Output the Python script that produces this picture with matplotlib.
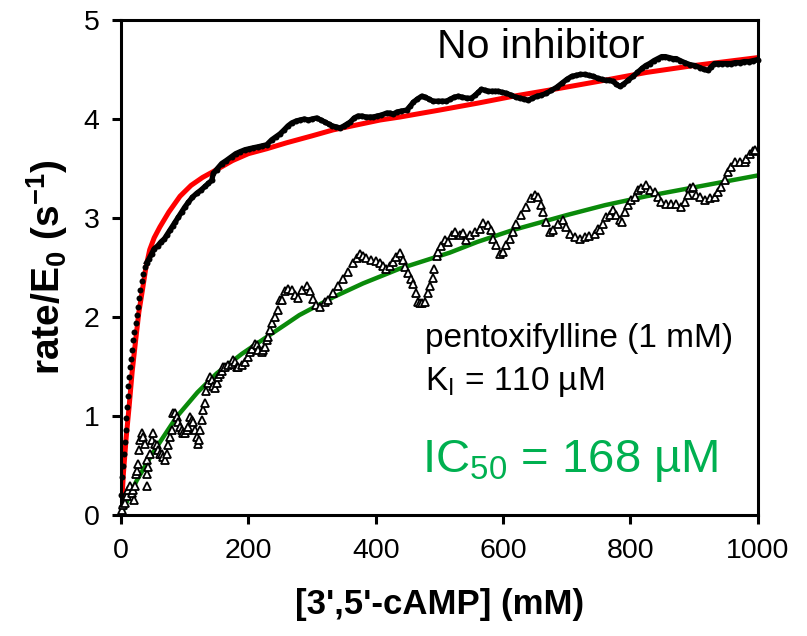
import numpy as np
import matplotlib
matplotlib.use('Agg')
import matplotlib.pyplot as plt

plt.rcParams['font.family'] = ['Liberation Sans', 'DejaVu Sans']
plt.rcParams['mathtext.fontset'] = 'custom'
plt.rcParams['mathtext.rm'] = 'Liberation Sans'
plt.rcParams['mathtext.bf'] = 'Liberation Sans:bold'
plt.rcParams['mathtext.it'] = 'Liberation Sans:italic'
plt.rcParams['mathtext.default'] = 'regular'

# no inhibitor, measured rate (filled circles)
no_inhib = [
    (0, 0.02), (0, 0.08), (0.5, 0.20), (2.1, 0.39), (3.1, 0.50), (4.7, 0.62), (6.3, 0.74),
    (7.3, 0.86), (8.4, 0.98), (9.4, 1.09), (10.5, 1.20), (11.5, 1.30), (13.1, 1.40),
    (14.7, 1.50), (16.2, 1.58), (17.8, 1.67), (19.4, 1.77), (21, 1.85), (23, 1.94),
    (24.6, 2.02), (26.2, 2.10), (28.3, 2.19), (30.4, 2.27), (32.4, 2.36), (35, 2.44),
    (37.7, 2.51), (40.3, 2.55), (44, 2.59), (48, 2.64), (52, 2.69), (57.6, 2.72),
    (62.8, 2.76), (68, 2.79), (72, 2.83), (77, 2.88), (81, 2.92), (84.8, 2.96), (90, 3.01),
    (95.2, 3.06), (100, 3.11), (105.7, 3.16), (112, 3.21), (118.8, 3.25), (125, 3.28),
    (131.9, 3.32), (137, 3.35), (142.3, 3.38), (145, 3.45), (150, 3.49), (158, 3.55),
    (165, 3.58), (173.7, 3.62), (180, 3.65), (187, 3.67), (194.7, 3.69), (201, 3.70),
    (208, 3.71), (215.6, 3.72), (222, 3.73), (228.7, 3.74), (236.5, 3.79), (243, 3.82),
    (249.6, 3.85), (256, 3.89), (262, 3.93), (268, 3.96), (275, 3.98), (281, 3.99),
    (288, 4.00), (294, 3.99), (300, 4.00), (307, 4.01), (314, 3.99), (320, 3.97),
    (326, 3.95), (332, 3.93), (338, 3.92), (344, 3.91), (350, 3.93), (355, 3.95),
    (360, 3.97), (366, 4.01), (372, 4.03), (378, 4.03), (385, 4.02), (391, 4.02),
    (396, 4.02), (402, 4.03), (409, 4.04), (417, 4.06), (422, 4.06), (427.5, 4.05),
    (433, 4.07), (440, 4.08), (448.5, 4.09), (454, 4.13), (459, 4.17), (465, 4.20),
    (472, 4.23), (478, 4.22), (484, 4.20), (490, 4.18), (497, 4.18), (504, 4.18),
    (511, 4.18), (517, 4.20), (523, 4.22), (529.5, 4.23), (536, 4.22), (543, 4.21),
    (550, 4.21), (556, 4.24), (561, 4.27), (566, 4.30), (572, 4.29), (577, 4.28),
    (582, 4.28), (587, 4.28), (592, 4.28), (598, 4.27), (605, 4.26), (613, 4.24),
    (620, 4.22), (627, 4.21), (633, 4.20), (639.5, 4.19), (646, 4.21), (653, 4.23),
    (660, 4.24), (668, 4.26), (676, 4.29), (684, 4.32), (692, 4.36), (700, 4.40),
    (707.5, 4.43), (714, 4.44), (721, 4.45), (728, 4.45), (735, 4.44), (742, 4.43),
    (749, 4.41), (755, 4.40), (761, 4.39), (767, 4.39), (773, 4.38), (778, 4.35),
    (783, 4.33), (789, 4.35), (796, 4.39), (804, 4.43), (811, 4.47), (818, 4.51),
    (824, 4.54), (830, 4.56), (837, 4.59), (843, 4.61), (849, 4.63), (855, 4.63),
    (861, 4.62), (867, 4.61), (872, 4.61), (878, 4.59), (885, 4.57), (893, 4.55),
    (901, 4.54), (909, 4.52), (916, 4.50), (922, 4.49), (927, 4.53), (932, 4.56),
    (938, 4.56), (944, 4.56), (951, 4.56), (958, 4.56), (965, 4.57), (972, 4.57),
    (979, 4.58), (986, 4.58), (993, 4.59), (1000, 4.60),
]

# pentoxifylline (1 mM), measured rate (open triangles)
pentox = [
    (1.0, 0.05), (3.0, 0.10), (6.3, 0.12), (8.9, 0.19), (11.5, 0.25), (14.1, 0.29),
    (16.7, 0.22), (19.4, 0.25), (20.5, 0.15), (22, 0.29), (23, 0.42), (25, 0.45),
    (27.2, 0.52), (28, 0.66), (29.8, 0.76), (32.4, 0.83), (35.1, 0.79), (37.7, 0.72),
    (40.3, 0.56), (41, 0.42), (41.5, 0.29), (42.9, 0.49), (45.5, 0.62), (48.1, 0.76),
    (50.8, 0.83), (53.4, 0.72), (56, 0.71), (58.6, 0.66), (61.2, 0.62), (63.8, 0.62),
    (66.5, 0.59), (69.1, 0.56), (71.7, 0.62), (74.3, 0.71), (76.9, 0.79), (79.5, 0.86),
    (82.2, 1.03), (84.8, 1.03), (87.4, 0.99), (90, 0.94), (92.6, 0.89), (95.2, 0.86),
    (97.9, 0.83), (100.5, 0.83), (103.1, 0.86), (105.7, 0.89), (108.3, 0.99),
    (110.9, 0.96), (113.6, 0.94), (116.2, 0.86), (118.8, 0.79), (120.4, 0.72),
    (122.4, 0.76), (124.5, 0.86), (126.6, 0.96), (129.2, 1.06), (131.9, 1.13),
    (133, 1.25), (136, 1.33), (139.7, 1.40), (142.3, 1.36), (144.9, 1.30), (147.6, 1.28),
    (150.2, 1.33), (152.8, 1.40), (155.4, 1.43), (158, 1.46), (160.6, 1.50), (163.3, 1.50),
    (168.5, 1.52), (173.7, 1.53), (176.3, 1.57), (179, 1.55), (181.6, 1.50), (184.2, 1.50),
    (189.4, 1.52), (194.7, 1.55), (199.9, 1.60), (202.5, 1.65), (205.1, 1.68),
    (210.4, 1.73), (213, 1.72), (215.6, 1.67), (220.8, 1.65), (223.4, 1.67), (226.1, 1.70),
    (228.7, 1.77), (231.3, 1.80), (233.9, 1.87), (236.5, 1.94), (241.8, 2.00), (247, 2.07),
    (249.6, 2.17), (252.2, 2.17), (257.4, 2.26), (262.6, 2.28), (267.8, 2.27), (273, 2.22),
    (278.2, 2.19), (283.5, 2.27), (291.3, 2.31), (296.5, 2.26), (301.7, 2.18),
    (306.9, 2.12), (312.1, 2.10), (320, 2.15), (325.2, 2.17), (333, 2.24), (340.8, 2.31),
    (348.7, 2.38), (356.5, 2.46), (364.3, 2.55), (370, 2.60), (375, 2.64), (380, 2.62),
    (385, 2.60), (392, 2.58), (400, 2.57), (406, 2.55), (412, 2.52), (416.5, 2.49),
    (422, 2.52), (427, 2.56), (432, 2.61), (438, 2.65), (442.6, 2.58), (446, 2.51),
    (450, 2.45), (455, 2.38), (459, 2.33), (463.5, 2.24), (466, 2.15), (469, 2.14),
    (473, 2.14), (477, 2.15), (481.8, 2.24), (485, 2.31), (489.6, 2.39), (492.2, 2.49),
    (496, 2.62), (498, 2.66), (502, 2.72), (508.6, 2.78), (513.8, 2.76), (519, 2.83),
    (524.3, 2.86), (532, 2.83), (537.3, 2.85), (542.5, 2.78), (547.7, 2.83), (555.5, 2.86),
    (563.4, 2.89), (568.6, 2.95), (576.5, 2.93), (581.7, 2.88), (584.3, 2.79),
    (589.5, 2.73), (594.7, 2.64), (600, 2.66), (605.2, 2.73), (610.4, 2.79), (615.6, 2.86),
    (620.8, 2.94), (628.7, 3.03), (636.5, 3.11), (644.3, 3.20), (649.5, 3.23),
    (654.7, 3.21), (660, 3.13), (662.6, 3.06), (667.8, 2.96), (673, 2.86), (678.3, 2.88),
    (686.1, 2.94), (694, 2.98), (699.2, 2.91), (704.4, 2.84), (712.2, 2.81), (720.1, 2.79),
    (727.9, 2.81), (735.7, 2.82), (743.6, 2.84), (748.8, 2.89), (752, 2.88), (757.2, 2.94),
    (762.4, 3.01), (767.7, 3.03), (772.9, 3.08), (778.1, 3.03), (783.3, 2.98), (786, 2.96),
    (791.2, 3.06), (796.4, 3.13), (801.6, 3.18), (806.9, 3.21), (812.1, 3.28),
    (817.3, 3.30), (825.2, 3.33), (830.4, 3.28), (838.3, 3.26), (843.5, 3.21),
    (848.7, 3.16), (856.6, 3.14), (864.4, 3.14), (872.3, 3.14), (880.1, 3.11),
    (885.4, 3.16), (890.6, 3.23), (893.2, 3.30), (898.4, 3.31), (903.7, 3.23),
    (908.9, 3.21), (916.7, 3.18), (924.6, 3.20), (932.4, 3.21), (937.7, 3.26),
    (942.9, 3.31), (948.1, 3.38), (953.4, 3.46), (958.6, 3.52), (963.8, 3.57),
    (971.7, 3.57), (979.5, 3.57), (982.1, 3.60), (987.3, 3.65), (992.6, 3.68),
    (995.2, 3.69),
]

# fitted curves
fit_red = [
    (0, 0), (3.7, 0.42), (8, 0.78), (12.6, 1.09), (17.5, 1.45), (23, 1.77), (28, 2.05),
    (33.5, 2.27), (39, 2.50), (45, 2.68), (52, 2.80), (61, 2.91), (75, 3.06), (92.6, 3.22),
    (110, 3.33), (128, 3.41), (145, 3.47), (175, 3.58), (200, 3.65), (229, 3.70),
    (260, 3.76), (300, 3.83), (333, 3.89), (370, 3.94), (407, 3.99), (438, 4.02),
    (500, 4.09), (560, 4.16), (616, 4.23), (680, 4.30), (750, 4.38), (825, 4.47),
    (900, 4.54), (1000, 4.62),
]
fit_green = [
    (0, 0), (10, 0.15), (24.6, 0.35), (50, 0.63), (87, 0.99), (120, 1.24), (150, 1.43),
    (190, 1.63), (229, 1.80), (257, 1.92), (280, 2.02), (333, 2.20), (380, 2.34),
    (438, 2.49), (516, 2.65), (560, 2.76), (616, 2.88), (700, 3.03), (760, 3.13),
    (825, 3.22), (900, 3.31), (1000, 3.43),
]

nx, ny = np.array(no_inhib).T
px, py = np.array(pentox).T
rx, ry = np.array(fit_red).T
gx, gy = np.array(fit_green).T

fig = plt.figure(figsize=(8.07, 6.36), dpi=100)
ax = fig.add_axes([0.15, 0.19, 0.789, 0.7786])

ax.plot(rx, ry, color='#ff0000', lw=3.6, zorder=2)
ax.plot(gx, gy, color='#0a8a0a', lw=3.2, zorder=2)
ax.plot(nx[nx >= 40], ny[nx >= 40], '-', color='black', lw=3.8, zorder=3)
ax.plot(nx, ny, 'o', color='black', ms=4.3, mew=0, zorder=3, clip_on=False)
ax.plot(px, py, '^', mfc='white', mec='black', mew=1.3, ms=5.5, ls='none', zorder=4,
        clip_on=False)

ax.set_xlim(0, 1000)
ax.set_ylim(0, 5)
ax.set_xticks([0, 200, 400, 600, 800, 1000])
ax.set_yticks([0, 1, 2, 3, 4, 5])
for s in ax.spines.values():
    s.set_linewidth(2.2)
ax.tick_params(direction='out', length=6.5, width=2.2, labelsize=20.5)
ax.tick_params(axis='x', pad=10)
ax.tick_params(axis='y', pad=9)

ax.set_xlabel("[3',5'-cAMP] (mM)", fontsize=25, fontweight='bold', labelpad=17)
ax.set_ylabel(r'rate/E$_\mathbf{0}$ (s$^\mathbf{-1}$)', fontsize=28, fontweight='bold',
              labelpad=10)

ax.text(496, 4.62, 'No inhibitor', fontsize=29.5, color='black')
ax.text(477, 1.70, 'pentoxifylline (1 mM)', fontsize=24, color='black')
ax.text(477, 1.26, r'K$_\mathregular{I}$ = 110 µM', fontsize=24, color='black')
ax.text(472, 0.44, r'IC$_{50}$ = 168 µM', fontsize=34, color='#00b050')

fig.savefig('out.png', dpi=100)
